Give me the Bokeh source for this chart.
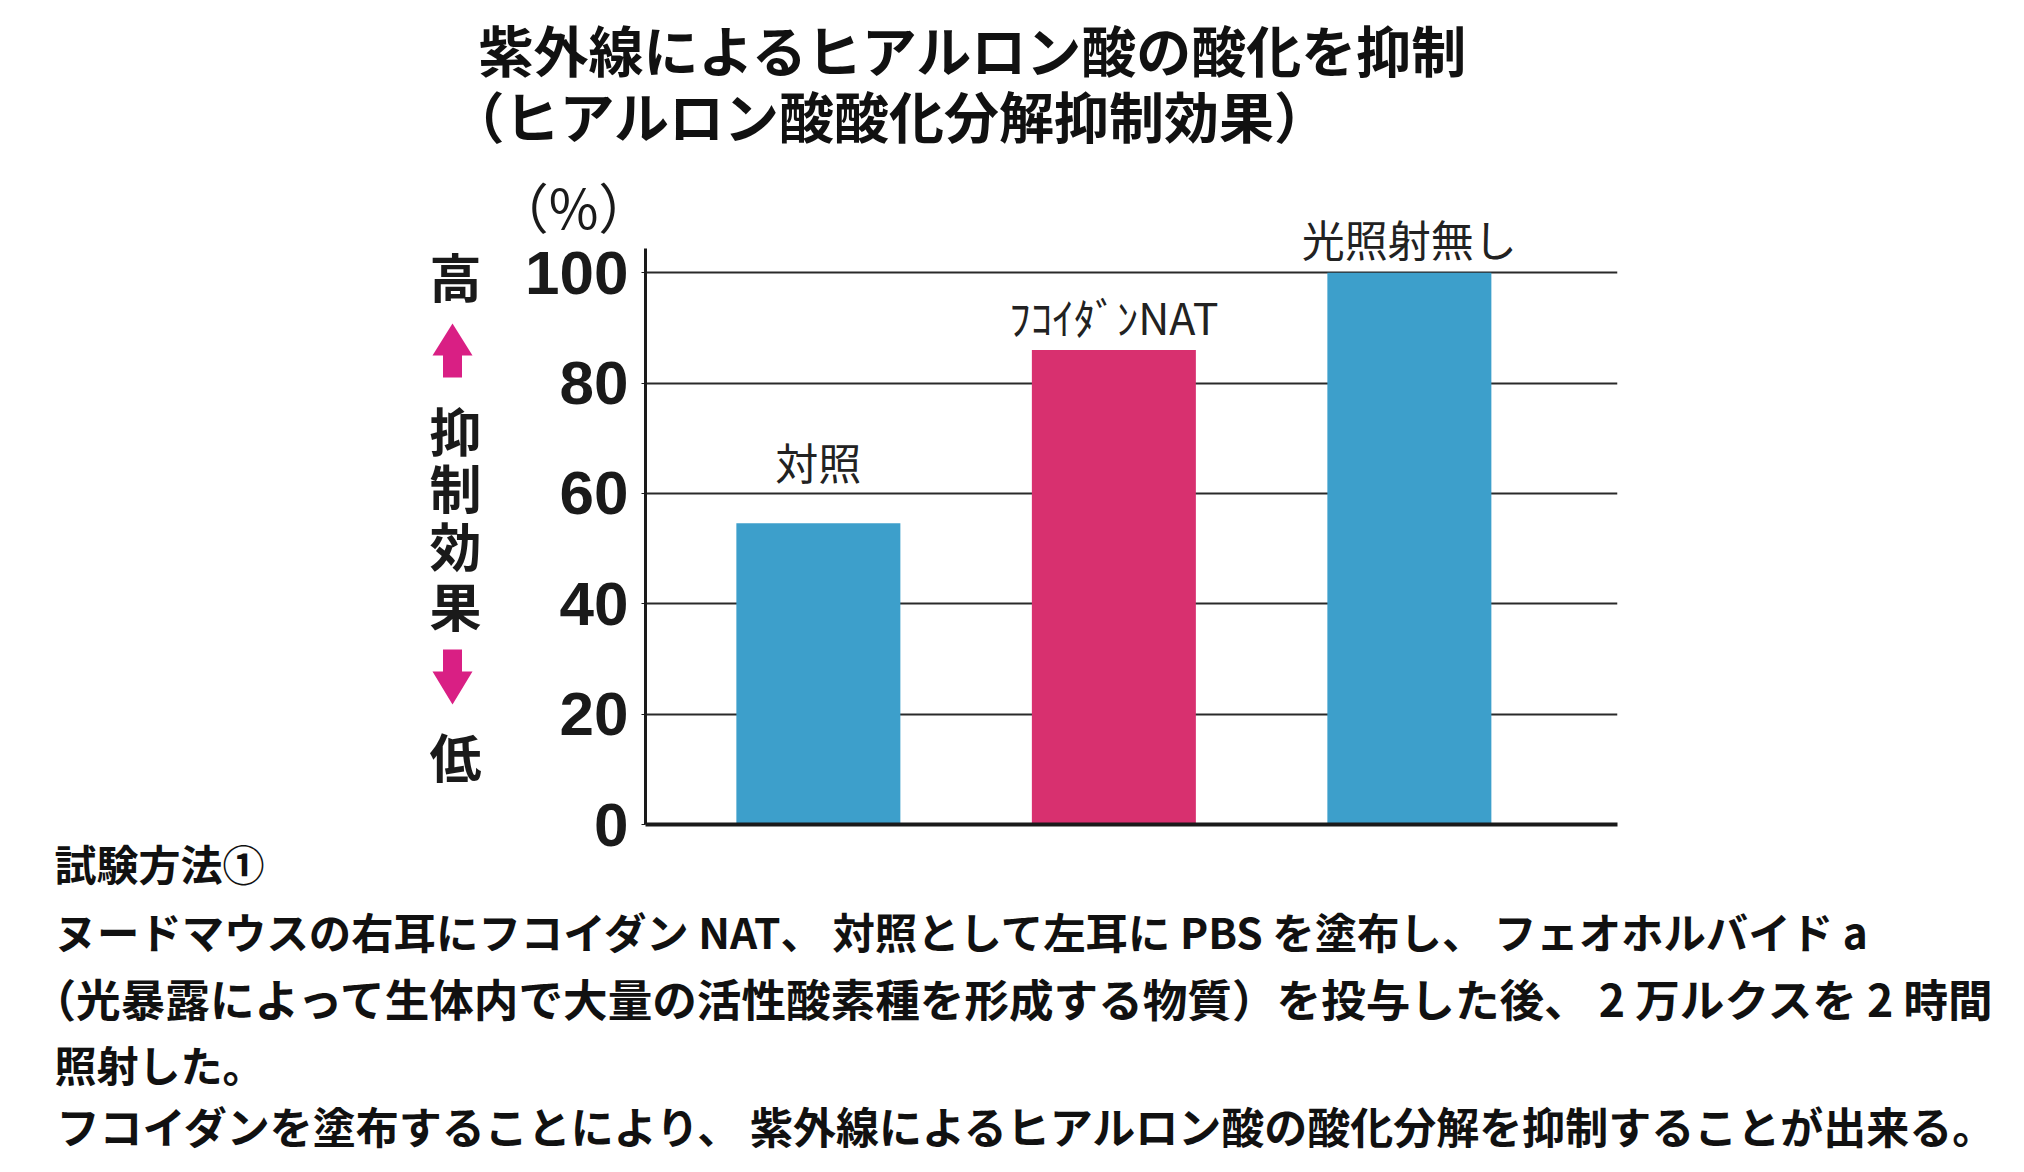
from bokeh.plotting import figure
from bokeh.models import Range1d, FixedTicker, ColumnDataSource
from bokeh.embed import file_html
from bokeh.resources import INLINE
from bokeh.core.properties import value

# ---------------- data ----------------
categories = ["対照", "ﾌｺｲﾀﾞﾝNAT", "光照射無し"]
values = [54.6, 86.0, 100.0]
y_ticks = [0, 20, 40, 60, 80, 100]
title_lines = ["紫外線によるヒアルロン酸の酸化を抑制", "（ヒアルロン酸酸化分解抑制効果）"]
y_unit = "（%）"
side_high = "高"
side_middle = ["抑", "制", "効", "果"]
side_low = "低"
body_lines = [
    "試験方法①",
    "ヌードマウスの右耳にフコイダン NAT、 対照として左耳に PBS を塗布し、 フェオホルバイド a",
    "（光暴露によって生体内で大量の活性酸素種を形成する物質）を投与した後、 2 万ルクスを 2 時間",
    "照射した。",
    " フコイダンを塗布することにより、 紫外線によるヒアルロン酸の酸化分解を抑制することが出来る。",
]

# ---------------- styles ----------------
bar_colors = ["#3D9FCB", "#D8306F", "#3D9FCB"]
label_offsets = [-62, -34, -35]
arrow_color = "#D91F84"
JP = "Noto Sans CJK JP"

W, H = 2008, 1156
FL, FR, FT, FB = 645, 1617, 248, 824          # frame in canvas px
XU = 295.5                                    # px per category
X0 = -0.585
YMAX = 104.4
YU = (FB - FT) / YMAX

def dx(xpage):
    return (xpage - FL) / XU + X0

def dy(ypage):
    return (FB - ypage) / YU

p = figure(width=W, height=H,
           x_range=Range1d(X0, X0 + (FR - FL) / XU),
           y_range=Range1d(0, YMAX),
           output_backend="svg", toolbar_location=None,
           min_border_left=FL, min_border_right=W - FR,
           min_border_top=FT, min_border_bottom=H - FB)
p.outline_line_color = None
p.background_fill_color = "white"
p.border_fill_color = "white"

xs = list(range(len(categories)))
src = ColumnDataSource(dict(x=xs, top=values, color=bar_colors, name=categories, off=label_offsets))
p.vbar(x="x", top="top", bottom=0, width=0.555, fill_color="color", line_color=None, source=src)

p.text(x="x", y="top", text="name", y_offset="off", source=src, level="overlay",
       text_align="center", text_baseline="middle",
       text_font=value(JP), text_font_size="43px", text_color="#222222")

# axes
p.xgrid.visible = False
p.ygrid.ticker = FixedTicker(ticks=y_ticks)
p.ygrid.grid_line_color = "#2a2a2a"
p.ygrid.grid_line_width = 1.8

ya = p.yaxis[0]
ya.ticker = FixedTicker(ticks=y_ticks)
ya.axis_line_width = 3
ya.axis_line_color = "#1a1a1a"
ya.major_tick_out = 4
ya.major_tick_in = 0
ya.major_tick_line_color = "#1a1a1a"
ya.minor_tick_line_color = None
ya.major_label_standoff = 13
ya.major_label_text_font = "Liberation Sans"
ya.major_label_text_font_size = "62px"
ya.major_label_text_font_style = "bold"
ya.major_label_text_color = "#1a1a1a"

xa = p.xaxis[0]
xa.ticker = FixedTicker(ticks=[])
xa.axis_line_width = 4
xa.axis_line_color = "#1a1a1a"
xa.major_tick_line_color = None
xa.minor_tick_line_color = None
xa.major_label_text_font_size = "0px"

def put(texts, xps, yps, size, bold=False, align="left", color="#111111"):
    p.text(x=[dx(v) for v in xps], y=[dy(v) for v in yps], text=texts, level="overlay",
           text_align=align, text_baseline="middle", text_font=value(JP),
           text_font_size=size, text_font_style="bold" if bold else "normal", text_color=color)

# title
put(title_lines, [478, 449], [47, 113], "55px", bold=True)
# unit
put([y_unit], [573], [205], "54px", align="center", color="#1a1a1a")
# side texts
side_texts = [side_high] + side_middle + [side_low]
put(side_texts, [455] * len(side_texts), [275, 429, 486, 544, 604, 755], "52px", bold=True,
    align="center", color="#1a1a1a")

# arrows (a zero-area spike reaching into the frame keeps them from being culled)
SPIKE_X = FL + 20
def arrow(cx, tip, base, end, hw=20, sw=9.5):
    pts = [(cx, tip), (cx + hw, base), (cx + sw, base), (cx + sw, end),
           (SPIKE_X, end), (cx + sw, end),
           (cx - sw, end), (cx - sw, base), (cx - hw, base)]
    return [dx(a) for a, b in pts], [dy(b) for a, b in pts]

arrows = [arrow(452, 323, 355, 377), arrow(452, 704, 671, 649)]
p.patches(xs=[a[0] for a in arrows], ys=[a[1] for a in arrows], fill_color=arrow_color,
          line_color=None, level="overlay")

# body
body_x = [54, 54, 31, 54, 56]
body_y = [862, 930, 997, 1063, 1124]
body_size = ["42px", "42.4px", "44.6px", "42px", "43px"]
for t, xp, yp, sz in zip(body_lines, body_x, body_y, body_size):
    put([t], [xp], [yp], sz, bold=True)

open("out.html", "w").write(file_html(p, INLINE))
